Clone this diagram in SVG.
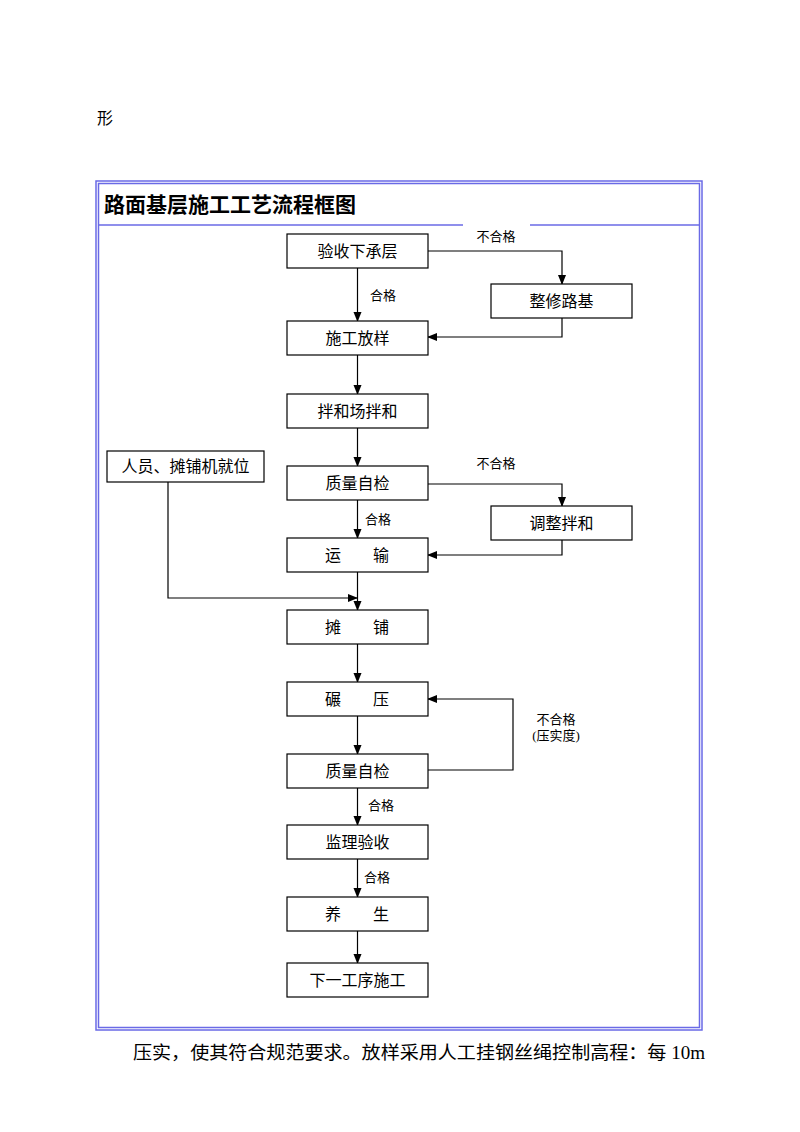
<svg xmlns="http://www.w3.org/2000/svg" width="800" height="1132" viewBox="0 0 800 1132">
<defs>
<style>
.box{fill:#fff;stroke:#000;stroke-width:1.2}
.t{font-family:"Liberation Serif","Noto Sans CJK SC",serif;font-size:16px;fill:#000;text-anchor:middle}
.l{font-family:"Liberation Serif","Noto Sans CJK SC",serif;font-size:13px;fill:#000;text-anchor:middle}
.c{fill:none;stroke:#000;stroke-width:1.2}
.frame{fill:none;stroke:#6a6ae6;stroke-width:1.5}
</style>
<marker id="ah" markerWidth="10" markerHeight="10" refX="9" refY="5" orient="auto" markerUnits="userSpaceOnUse">
<path d="M0,1 L10,5 L0,9 Z" fill="#000"/>
</marker>
</defs>
<rect width="800" height="1132" fill="#fff"/>
<text x="97" y="124" font-family="'Noto Sans CJK SC',sans-serif" font-size="16">形</text>

<g id="frame">
<rect class="frame" x="96" y="181" width="606" height="849"/>
<rect class="frame" x="98.5" y="183.5" width="601" height="844" stroke-width="1"/>
<line class="frame" x1="98" y1="225" x2="700" y2="225"/>
<text x="104" y="212" font-family="'Noto Sans CJK SC',serif" font-weight="bold" font-size="21">路面基层施工工艺流程框图</text>
</g>

<g id="connectors">
<line class="c" x1="357.5" y1="268" x2="357.5" y2="321" marker-end="url(#ah)"/>
<polyline class="c" points="428,251 562,251 562,284" marker-end="url(#ah)"/>
<polyline class="c" points="562,318 562,337 428,337" marker-end="url(#ah)"/>
<line class="c" x1="357.5" y1="355" x2="357.5" y2="394" marker-end="url(#ah)"/>
<line class="c" x1="357.5" y1="428" x2="357.5" y2="466" marker-end="url(#ah)"/>
<polyline class="c" points="428,484 562,484 562,506" marker-end="url(#ah)"/>
<line class="c" x1="357.5" y1="500" x2="357.5" y2="538" marker-end="url(#ah)"/>
<polyline class="c" points="562,540 562,555 428,555" marker-end="url(#ah)"/>
<line class="c" x1="357.5" y1="572" x2="357.5" y2="610" marker-end="url(#ah)"/>
<polyline class="c" points="168,482 168,598 357,598" marker-end="url(#ah)"/>
<line class="c" x1="357.5" y1="644" x2="357.5" y2="682" marker-end="url(#ah)"/>
<line class="c" x1="357.5" y1="716" x2="357.5" y2="754" marker-end="url(#ah)"/>
<polyline class="c" points="428,770 513,770 513,699 428,699" marker-end="url(#ah)"/>
<line class="c" x1="357.5" y1="788" x2="357.5" y2="825" marker-end="url(#ah)"/>
<line class="c" x1="357.5" y1="859" x2="357.5" y2="897" marker-end="url(#ah)"/>
<line class="c" x1="357.5" y1="931" x2="357.5" y2="963" marker-end="url(#ah)"/>
<rect x="463" y="221" width="67" height="8" fill="#fff"/>
<text class="l" x="496" y="241">不合格</text>
<text class="l" x="383" y="300">合格</text>
<text class="l" x="496" y="468">不合格</text>
<text class="l" x="378" y="524">合格</text>
<text class="l" x="556" y="724">不合格</text>
<text class="l" x="556" y="740">(压实度)</text>
<text class="l" x="381" y="810">合格</text>
<text class="l" x="377" y="882">合格</text>
</g>

<g id="n1"><rect class="box" x="287" y="234" width="141" height="34"/><text class="t" x="357.5" y="257">验收下承层</text></g>
<g id="n2"><rect class="box" x="491" y="284" width="141" height="34"/><text class="t" x="561.5" y="307">整修路基</text></g>
<g id="n3"><rect class="box" x="287" y="321" width="141" height="34"/><text class="t" x="357.5" y="344">施工放样</text></g>
<g id="n4"><rect class="box" x="287" y="394" width="141" height="34"/><text class="t" x="357.5" y="417">拌和场拌和</text></g>
<g id="n5"><rect class="box" x="107" y="451" width="157" height="31"/><text class="t" x="185.5" y="472">人员、摊铺机就位</text></g>
<g id="n6"><rect class="box" x="287" y="466" width="141" height="34"/><text class="t" x="357.5" y="489">质量自检</text></g>
<g id="n7"><rect class="box" x="491" y="506" width="141" height="34"/><text class="t" x="561.5" y="529">调整拌和</text></g>
<g id="n8"><rect class="box" x="287" y="538" width="141" height="34"/><text class="t" x="333" y="561">运</text><text class="t" x="381" y="561">输</text></g>
<g id="n9"><rect class="box" x="287" y="610" width="141" height="34"/><text class="t" x="333" y="633">摊</text><text class="t" x="381" y="633">铺</text></g>
<g id="n10"><rect class="box" x="287" y="682" width="141" height="34"/><text class="t" x="333" y="705">碾</text><text class="t" x="381" y="705">压</text></g>
<g id="n11"><rect class="box" x="287" y="754" width="141" height="34"/><text class="t" x="357.5" y="777">质量自检</text></g>
<g id="n12"><rect class="box" x="287" y="825" width="141" height="34"/><text class="t" x="357.5" y="848">监理验收</text></g>
<g id="n13"><rect class="box" x="287" y="897" width="141" height="34"/><text class="t" x="333" y="920">养</text><text class="t" x="381" y="920">生</text></g>
<g id="n14"><rect class="box" x="287" y="963" width="141" height="34"/><text class="t" x="357.5" y="986">下一工序施工</text></g>

<text x="133" y="1059" font-family="'Liberation Serif','Noto Sans CJK SC',serif" font-size="18" textLength="572" lengthAdjust="spacingAndGlyphs">压实，使其符合规范要求。放样采用人工挂钢丝绳控制高程：每 10m</text>
</svg>
